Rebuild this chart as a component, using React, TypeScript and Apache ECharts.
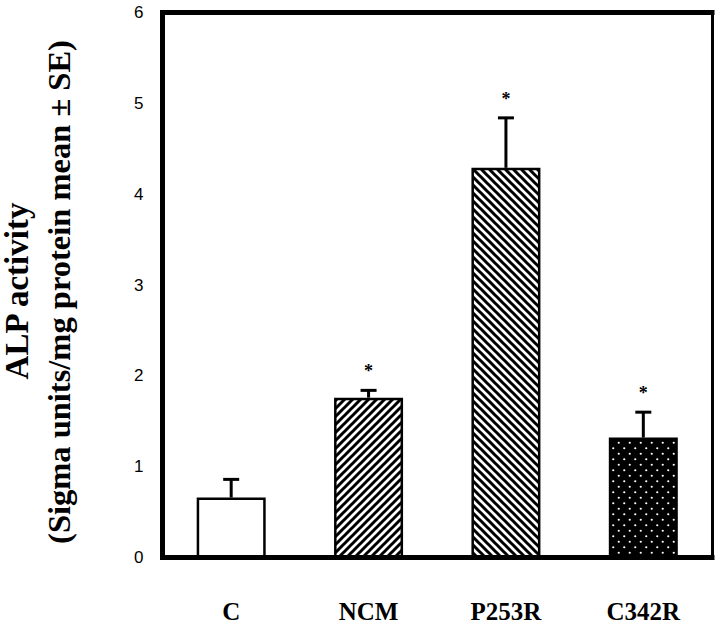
import React, { useEffect, useRef } from 'react';
import * as echarts from 'echarts';

// ---- data ----
const categories = ['C', 'NCM', 'P253R', 'C342R'];
const meanValues = [0.66, 1.76, 4.29, 1.32];
const upperErrorValues = [0.86, 1.84, 4.84, 1.6];
const significant = [false, true, true, true];
const fillKinds = ['plain', 'hatchUp', 'hatchDown', 'dots'];
const yTitleLine1 = 'ALP activity';
const yTitleLine2 = '(Sigma units/mg protein mean ± SE)';
const yMin = 0;
const yMax = 6;
const yInterval = 1;

function makeHatch(dir: 'up' | 'down'): string {
  const s = 8;
  const c = document.createElement('canvas');
  c.width = s;
  c.height = s;
  const ctx = c.getContext('2d')!;
  ctx.fillStyle = '#fff';
  ctx.fillRect(0, 0, s, s);
  ctx.strokeStyle = '#000';
  ctx.lineWidth = 3;
  ctx.beginPath();
  if (dir === 'up') {
    ctx.moveTo(-2, s + 2); ctx.lineTo(s + 2, -2);
    ctx.moveTo(-2, 2); ctx.lineTo(2, -2);
    ctx.moveTo(s - 2, s + 2); ctx.lineTo(s + 2, s - 2);
  } else {
    ctx.moveTo(-2, -2); ctx.lineTo(s + 2, s + 2);
    ctx.moveTo(-2, s - 2); ctx.lineTo(2, s + 2);
    ctx.moveTo(s - 2, -2); ctx.lineTo(s + 2, 2);
  }
  ctx.stroke();
  return c.toDataURL();
}

function makeDots(): string {
  const s = 11;
  const c = document.createElement('canvas');
  c.width = s;
  c.height = s;
  const ctx = c.getContext('2d')!;
  ctx.fillStyle = '#000';
  ctx.fillRect(0, 0, s, s);
  ctx.fillStyle = '#fff';
  ctx.beginPath();
  ctx.arc(2.75, 2.75, 1.1, 0, Math.PI * 2);
  ctx.arc(8.25, 8.25, 1.1, 0, Math.PI * 2);
  ctx.fill();
  return c.toDataURL();
}

export default function App() {
  const ref = useRef<HTMLDivElement>(null);

  useEffect(() => {
    if (!ref.current) return;
    const chart = echarts.init(ref.current, undefined, { renderer: 'svg' });

    const fills: Record<string, any> = {
      plain: '#fff',
      hatchUp: { image: makeHatch('up'), repeat: 'repeat', imageWidth: 8, imageHeight: 8 },
      hatchDown: { image: makeHatch('down'), repeat: 'repeat', imageWidth: 8, imageHeight: 8 },
      dots: { image: makeDots(), repeat: 'repeat', imageWidth: 11, imageHeight: 11 },
    };

    const serif = '"Liberation Serif", "Times New Roman", serif';
    const sans = '"Liberation Sans", Arial, sans-serif';

    const option: any = {
      animation: false,
      backgroundColor: '#fff',
      grid: { left: 162.5, right: 8, top: 12.5, bottom: 73.5, containLabel: false },
      xAxis: [
        {
          type: 'category',
          data: categories,
          position: 'bottom',
          axisLine: { show: true, onZero: false, lineStyle: { color: '#000', width: 5, cap: 'square' } },
          axisTick: { show: false },
          axisLabel: {
            color: '#000',
            fontFamily: serif,
            fontWeight: 'bold',
            fontSize: 25,
            margin: 41,
          },
          splitLine: { show: false },
        },
        {
          type: 'category',
          data: categories,
          position: 'top',
          axisLine: { show: true, onZero: false, lineStyle: { color: '#000', width: 5, cap: 'square' } },
          axisTick: { show: false },
          axisLabel: { show: false },
          splitLine: { show: false },
        },
      ],
      yAxis: [
        {
          type: 'value',
          min: yMin,
          max: yMax,
          interval: yInterval,
          position: 'left',
          axisLine: { show: true, onZero: false, lineStyle: { color: '#000', width: 5, cap: 'square' } },
          axisTick: { show: false },
          axisLabel: { color: '#000', fontFamily: sans, fontSize: 17, margin: 19 },
          splitLine: { show: false },
        },
        {
          type: 'value',
          min: yMin,
          max: yMax,
          interval: yInterval,
          position: 'right',
          axisLine: { show: true, onZero: false, lineStyle: { color: '#000', width: 3 } },
          axisTick: { show: false },
          axisLabel: { show: false },
          splitLine: { show: false },
        },
      ],
      graphic: [
        {
          type: 'text',
          x: 17,
          y: 291,
          rotation: Math.PI / 2,
          style: {
            text: yTitleLine1,
            font: `bold 33px ${serif}`,
            fill: '#000',
            align: 'center',
            verticalAlign: 'middle',
          },
        },
        {
          type: 'text',
          x: 59,
          y: 292,
          rotation: Math.PI / 2,
          style: {
            text: yTitleLine2,
            font: `bold 32.5px ${serif}`,
            fill: '#000',
            align: 'center',
            verticalAlign: 'middle',
          },
        },
      ],
      series: [
        {
          type: 'bar',
          barWidth: 69,
          xAxisIndex: 0,
          yAxisIndex: 0,
          data: meanValues.map((v, i) => ({
            value: v,
            itemStyle: {
              color: fills[fillKinds[i]],
              borderColor: '#000',
              borderWidth: 2.5,
            },
          })),
          z: 2,
        },
        {
          type: 'custom',
          xAxisIndex: 0,
          yAxisIndex: 0,
          z: 3,
          encode: { x: 0, y: [1, 2] },
          data: categories.map((c, i) => [i, meanValues[i], upperErrorValues[i], significant[i] ? 1 : 0]),
          renderItem: (params: any, api: any) => {
            const idx = api.value(0);
            const mean = api.value(1);
            const upper = api.value(2);
            const sig = api.value(3);
            const base = api.coord([idx, mean]);
            const top = api.coord([idx, upper]);
            const capHalf = 8;
            const children: any[] = [
              {
                type: 'line',
                shape: { x1: base[0], y1: base[1], x2: top[0], y2: top[1] },
                style: { stroke: '#000', lineWidth: 3 },
              },
              {
                type: 'line',
                shape: { x1: top[0] - capHalf, y1: top[1], x2: top[0] + capHalf, y2: top[1] },
                style: { stroke: '#000', lineWidth: 3 },
              },
            ];
            if (sig) {
              children.push({
                type: 'text',
                x: top[0],
                y: top[1] - 19,
                style: {
                  text: '*',
                  font: `bold 18px ${serif}`,
                  fill: '#000',
                  align: 'center',
                  verticalAlign: 'middle',
                },
              });
            }
            return { type: 'group', children };
          },
        },
      ],
    };

    chart.setOption(option);
    return () => chart.dispose();
  }, []);

  return (
    <div
      ref={ref}
      style={{ position: 'fixed', left: 0, top: 0, width: 720, height: 631, background: '#fff' }}
    />
  );
}
